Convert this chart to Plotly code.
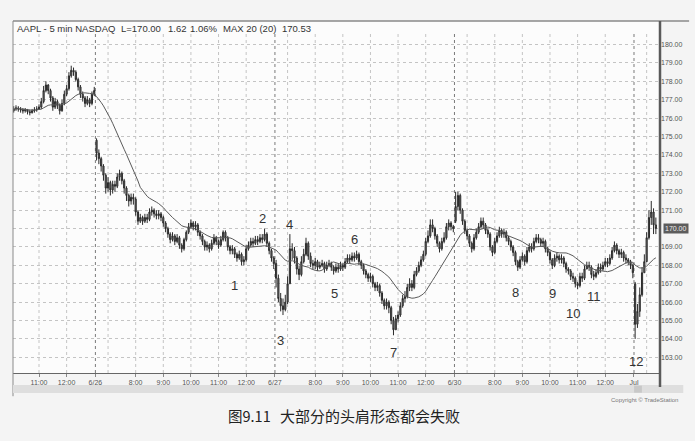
import plotly.graph_objects as go
import pandas as pd

# ---------------- data ----------------
day_labels = ["6/25", "6/26", "6/27", "6/30", "Jul"]
session_open = [176.4, 174.8, 168.1, 170.4, 167.0]

close_0625 = [176.5, 176.55, 176.5, 176.45, 176.4, 176.45, 176.35, 176.3, 176.4, 176.45,
              176.5, 176.6, 176.9, 177.5, 177.8, 177.5, 177.1, 176.6, 176.9, 176.7,
              176.4, 176.8, 177.3, 177.6, 178.3, 178.6, 178.5, 178.1, 177.7, 177.3,
              177.1, 176.8, 177.0, 176.8, 177.3, 177.5]
high_0625 = [176.65, 176.7, 176.65, 176.6, 176.55, 176.55, 176.5, 176.45, 176.5, 176.6,
             176.65, 176.75, 177.1, 177.75, 178.0, 177.85, 177.6, 177.2, 177.1, 177.0,
             176.8, 177.0, 177.5, 177.8, 178.5, 178.85, 178.75, 178.6, 178.2, 177.8,
             177.45, 177.2, 177.2, 177.1, 177.45, 177.7]
low_0625 = [176.3, 176.4, 176.35, 176.3, 176.25, 176.3, 176.2, 176.15, 176.25, 176.3,
            176.35, 176.45, 176.5, 176.8, 177.4, 177.3, 176.9, 176.4, 176.5, 176.5,
            176.2, 176.35, 176.7, 177.2, 177.5, 178.2, 178.3, 178.0, 177.5, 177.1,
            176.9, 176.6, 176.7, 176.6, 176.7, 177.2]

close_0626 = [174.1, 173.8, 173.4, 172.9, 172.2, 172.5, 172.1, 172.4, 172.3, 172.8,
              173.0, 172.6, 172.2, 171.8, 171.5, 171.7, 171.6, 170.9, 170.4, 170.6,
              170.4, 170.6, 170.5, 170.9, 171.0, 170.8, 170.7, 170.8, 170.6, 170.3,
              170.0, 169.7, 169.4, 169.6, 169.3, 169.5, 169.1, 168.9, 169.4, 169.8,
              170.1, 170.3, 170.1, 170.2, 169.8, 169.6, 169.3, 169.0, 169.1, 168.9,
              169.2, 169.5, 169.3, 169.1, 169.4, 169.8, 169.5, 169.0, 168.8, 168.9,
              168.6, 168.4, 168.6, 168.2, 168.3, 168.9, 169.1, 169.3, 169.2, 169.4,
              169.3, 169.5, 169.4, 169.7, 169.2, 168.8, 168.4, 168.1]
high_0626 = [174.9, 174.3, 173.9, 173.5, 173.0, 172.8, 172.6, 172.6, 172.6, 173.0,
             173.2, 173.1, 172.7, 172.3, 171.9, 171.9, 171.9, 171.7, 171.0, 170.8,
             170.7, 170.8, 170.8, 171.1, 171.2, 171.1, 171.0, 171.0, 170.9, 170.7,
             170.4, 170.1, 169.8, 169.8, 169.7, 169.7, 169.6, 169.2, 169.5, 169.9,
             170.3, 170.5, 170.4, 170.4, 170.3, 169.9, 169.7, 169.4, 169.3, 169.2,
             169.4, 169.7, 169.6, 169.4, 169.6, 169.9, 169.9, 169.6, 169.1, 169.1,
             169.0, 168.7, 168.8, 168.7, 168.5, 169.1, 169.3, 169.5, 169.5, 169.6,
             169.6, 169.7, 169.7, 170.0, 169.8, 169.3, 168.9, 168.5]
low_0626 = [173.7, 173.5, 173.1, 172.6, 171.9, 172.0, 171.8, 171.9, 172.0, 172.2,
            172.6, 172.4, 171.9, 171.5, 171.2, 171.3, 171.3, 170.7, 170.2, 170.3,
            170.2, 170.3, 170.3, 170.4, 170.7, 170.6, 170.5, 170.5, 170.4, 170.1,
            169.8, 169.5, 169.2, 169.3, 169.1, 169.2, 168.9, 168.7, 168.8, 169.3,
            169.7, 170.0, 169.9, 169.9, 169.6, 169.4, 169.1, 168.8, 168.8, 168.7,
            168.8, 169.1, 169.1, 168.9, 169.0, 169.3, 169.3, 168.8, 168.6, 168.6,
            168.4, 168.2, 168.3, 168.0, 168.0, 168.2, 168.8, 169.0, 169.0, 169.1,
            169.1, 169.2, 169.2, 169.3, 169.0, 168.6, 168.2, 167.8]

close_0627 = [167.3, 166.2, 165.8, 165.6, 166.0, 167.0, 168.9, 168.8, 168.4, 167.8,
              167.5, 168.2, 168.6, 169.2, 168.5, 168.1, 168.0, 168.2, 167.9, 168.0,
              168.1, 167.8, 168.0, 168.1, 167.9, 167.7, 167.9, 167.8, 168.0, 167.9,
              168.2, 168.4, 168.3, 168.5, 168.4, 168.6, 168.2, 168.0, 167.7, 167.5,
              167.3, 167.4, 167.0, 166.8, 166.9, 166.5, 166.1, 165.8, 166.0, 165.7,
              165.0, 164.5, 165.1, 165.3, 165.8, 166.2, 166.3, 166.8, 167.0, 166.8,
              167.5, 167.7, 168.0, 168.3, 168.6, 169.3, 169.6, 170.2, 170.0, 169.6,
              169.2, 168.9, 169.3, 169.5, 170.1, 170.3, 170.1, 170.0]
high_0627 = [168.3, 167.5, 166.5, 166.2, 166.4, 167.4, 169.7, 169.2, 169.0, 168.5,
             168.0, 168.5, 168.9, 169.5, 169.3, 168.7, 168.3, 168.4, 168.3, 168.2,
             168.3, 168.2, 168.2, 168.3, 168.2, 168.0, 168.1, 168.1, 168.2, 168.1,
             168.4, 168.6, 168.6, 168.7, 168.7, 168.8, 168.7, 168.3, 168.1, 167.8,
             167.6, 167.6, 167.5, 167.1, 167.1, 167.0, 166.6, 166.2, 166.2, 166.1,
             165.8, 165.2, 165.3, 165.5, 166.0, 166.4, 166.6, 167.0, 167.3, 167.2,
             167.7, 167.9, 168.2, 168.5, 168.8, 169.5, 169.9, 170.5, 170.5, 170.1,
             169.7, 169.3, 169.5, 169.8, 170.3, 170.5, 170.4, 170.2]
low_0627 = [166.8, 166.0, 165.5, 165.3, 165.5, 165.9, 167.0, 168.3, 168.1, 167.5,
            167.2, 167.4, 168.1, 168.5, 168.3, 167.9, 167.8, 167.8, 167.7, 167.8,
            167.9, 167.6, 167.7, 167.9, 167.7, 167.5, 167.6, 167.6, 167.7, 167.7,
            167.8, 168.1, 168.1, 168.2, 168.2, 168.3, 168.0, 167.8, 167.5, 167.3,
            167.1, 167.1, 166.8, 166.6, 166.6, 166.3, 165.9, 165.6, 165.6, 165.4,
            164.8, 164.2, 164.5, 164.9, 165.2, 165.7, 166.0, 166.2, 166.6, 166.6,
            166.7, 167.4, 167.6, 167.9, 168.2, 168.5, 169.2, 169.5, 169.8, 169.4,
            169.0, 168.7, 168.8, 169.2, 169.4, 169.9, 169.9, 169.8]

close_0630 = [171.2, 171.8, 171.0, 170.4, 169.9, 169.6, 169.2, 168.9, 169.5, 169.8,
              170.1, 170.4, 170.2, 169.9, 169.7, 169.0, 168.7, 169.3, 169.6, 169.9,
              169.7, 169.8, 169.5, 169.3, 169.0, 168.7, 168.2, 167.9, 168.3, 168.5,
              168.2, 168.8, 169.0, 168.9, 169.3, 169.5, 169.4, 169.2, 169.3, 168.9,
              168.7, 168.3, 168.0, 168.4, 168.5, 168.3, 168.4, 168.1, 167.8, 167.7,
              167.4, 167.3, 167.0, 166.9, 167.4, 167.3, 167.8, 168.0, 167.9, 167.5,
              167.4, 167.6, 167.9, 167.8, 168.0, 168.2, 168.1, 168.4, 168.8, 169.1,
              168.8, 168.6, 168.7, 168.4, 168.3, 168.2, 168.0, 167.6]
high_0630 = [172.0, 172.0, 171.9, 171.1, 170.5, 170.0, 169.7, 169.3, 169.7, 170.0,
             170.3, 170.6, 170.6, 170.3, 170.0, 169.8, 169.1, 169.5, 169.8, 170.1,
             170.0, 170.0, 169.9, 169.6, 169.4, 169.1, 168.8, 168.3, 168.5, 168.7,
             168.6, 169.0, 169.2, 169.2, 169.5, 169.7, 169.7, 169.5, 169.5, 169.4,
             169.0, 168.8, 168.4, 168.6, 168.7, 168.6, 168.6, 168.5, 168.2, 167.9,
             167.8, 167.6, 167.4, 167.1, 167.6, 167.6, 168.0, 168.2, 168.2, 168.0,
             167.7, 167.8, 168.1, 168.1, 168.2, 168.4, 168.4, 168.6, 169.0, 169.3,
             169.2, 168.9, 168.9, 168.8, 168.6, 168.4, 168.3, 168.1]
low_0630 = [170.3, 171.0, 170.8, 170.2, 169.7, 169.4, 169.0, 168.7, 168.8, 169.4,
            169.7, 170.0, 170.0, 169.7, 169.5, 168.8, 168.5, 168.6, 169.2, 169.5,
            169.5, 169.5, 169.3, 169.1, 168.8, 168.5, 168.0, 167.7, 167.8, 168.2,
            168.0, 168.1, 168.7, 168.7, 168.8, 169.2, 169.2, 169.0, 169.0, 168.7,
            168.5, 168.1, 167.8, 167.9, 168.2, 168.1, 168.1, 167.9, 167.6, 167.5,
            167.2, 167.1, 166.8, 166.7, 166.8, 167.1, 167.2, 167.8, 167.7, 167.3,
            167.2, 167.3, 167.5, 167.6, 167.7, 167.9, 167.9, 168.0, 168.3, 168.7,
            168.6, 168.4, 168.4, 168.2, 168.1, 168.0, 167.8, 167.3]

close_0701 = [164.8, 165.5, 166.4, 167.6, 168.2, 169.5, 170.6, 170.9, 170.2, 170.0]
high_0701 = [167.1, 165.9, 166.8, 167.9, 168.6, 169.8, 171.0, 171.5, 171.1, 170.6]
low_0701 = [164.0, 164.6, 165.2, 166.3, 167.6, 168.2, 169.4, 170.2, 169.7, 169.7]

ma_length = 20
y_tick_prices = list(range(163, 181))
last_price = 170.00

header_parts = [("AAPL - 5 min NASDAQ", 15), ("L=170.00", 120), ("1.62", 167),
                ("1.06%", 190), ("MAX 20 (20)", 223), ("170.53", 282)]

# pattern labels: (text, bar position, price position)
pattern_labels = [("1", 96.1, 166.93), ("2", 108.2, 170.52), ("3", 116.1, 163.94),
                  ("4", 119.8, 170.24), ("5", 139.2, 166.49), ("6", 148.2, 169.43),
                  ("7", 165.0, 163.29), ("8", 217.9, 166.55), ("9", 233.9, 166.49),
                  ("10", 242.9, 165.40), ("11", 252.0, 166.33), ("12", 270.3, 162.80)]

# ---------------- assemble ----------------
day_close = [close_0625, close_0626, close_0627, close_0630, close_0701]
day_high = [high_0625, high_0626, high_0627, high_0630, high_0701]
day_low = [low_0625, low_0626, low_0627, low_0630, low_0701]

closes, highs, lows, opens = [], [], [], []
for so, c, h, l in zip(session_open, day_close, day_high, day_low):
    opens += [so] + c[:-1]
    closes += c
    highs += h
    lows += l
n = len(closes)
idx = list(range(n))
ma = pd.Series(closes).rolling(ma_length, min_periods=1).mean()

starts = []
pos = 0
for c in day_close:
    starts.append(pos)
    pos += len(c)
bars_per_day = 78
virtual_starts = [starts[1] - bars_per_day] + starts[1:]

Y0, Y1 = 162.15, 181.28
X0, X1 = -0.3, 280.8
GRID_TOP = 180.7

tickvals, ticktext = [], []
hour_grid, day_seps = [], []
for k, vs in enumerate(virtual_starts):
    if k >= 1:
        sep = starts[k] - 0.5
        day_seps.append(sep)
        tickvals.append(sep)
        ticktext.append(day_labels[k])
    for h in [7, 8, 9, 10, 11, 12]:
        p = vs + (h * 60 - 390) // 5 - 1
        if p < starts[k] or p > n - 1:
            continue
        hour_grid.append(p)
        if h >= 8:
            tickvals.append(p)
            ticktext.append(f"{h}:00")

fig = go.Figure()
bar_style = dict(line=dict(color="#2a2a2a", width=1), fillcolor="#808080")
fig.add_trace(go.Candlestick(x=idx, open=opens, high=highs, low=lows, close=closes,
                             increasing=bar_style, decreasing=bar_style,
                             whiskerwidth=0, showlegend=False, hoverinfo="skip"))
fig.add_trace(go.Scatter(x=idx, y=ma, mode="lines",
                         line=dict(color="#5a5a5a", width=1), hoverinfo="skip",
                         showlegend=False))

shapes = []
for p in hour_grid:
    shapes.append(dict(type="line", xref="x", yref="y", x0=p, x1=p, y0=Y0, y1=GRID_TOP,
                       line=dict(color="#c4c4c4", width=1, dash="dot"), layer="below"))
for p in day_seps:
    shapes.append(dict(type="line", xref="x", yref="y", x0=p, x1=p, y0=Y0, y1=GRID_TOP,
                       line=dict(color="#7a7a7a", width=1, dash="dot"), layer="below"))
shapes.append(dict(type="line", xref="paper", yref="paper", x0=0, x1=1.045, y0=1, y1=1,
                   line=dict(color="#8a8a8a", width=1.5)))
shapes.append(dict(type="line", xref="paper", yref="paper", x0=0, x1=0, y0=1, y1=-0.066,
                   line=dict(color="#8a8a8a", width=1)))
shapes.append(dict(type="rect", xref="paper", yref="paper", x0=0, x1=1.036,
                   y0=-0.057, y1=-0.034, fillcolor="#dedede", line=dict(width=0)))
shapes.append(dict(type="rect", xref="paper", yref="paper", x0=0.96, x1=0.972,
                   y0=-0.056, y1=-0.036, fillcolor="#c8c8c8", line=dict(width=0)))
shapes.append(dict(type="line", xref="paper", yref="paper", x0=1, x1=1, y0=1, y1=-0.04,
                   line=dict(color="#5a5a5a", width=2.5)))

annotations = []
for txt, xpx in header_parts:
    annotations.append(dict(xref="paper", yref="paper", x=(xpx - 13) / 653, y=1 - 7 / 352,
                            text=txt, showarrow=False, xanchor="left", yanchor="middle",
                            font=dict(size=9.5, color="#333", family="Liberation Sans, Arial")))
for txt, bx, py in pattern_labels:
    annotations.append(dict(xref="x", yref="y", x=bx, y=py, text=txt, showarrow=False,
                            xanchor="center", yanchor="middle",
                            font=dict(size=13, color="#333", family="Liberation Sans, Arial")))
annotations.append(dict(xref="paper", yref="y", x=1.004, y=last_price, text=f"{last_price:.2f}",
                        showarrow=False, xanchor="left", yanchor="middle", bgcolor="#5c5c5c",
                        borderpad=1, font=dict(size=7, color="#eeeeee",
                                               family="Liberation Sans, Arial")))
annotations.append(dict(xref="paper", yref="paper", x=(228 - 13) / 653, y=(373 - 415) / 352,
                        text="图9.11", showarrow=False, xanchor="left", yanchor="middle",
                        font=dict(size=14.5, color="#222", family="Noto Sans CJK SC")))
annotations.append(dict(xref="paper", yref="paper", x=(280 - 13) / 653, y=(373 - 415) / 352,
                        text="大部分的头肩形态都会失败", showarrow=False, xanchor="left",
                        yanchor="middle",
                        font=dict(size=15, color="#222", family="Noto Sans CJK SC")))
annotations.append(dict(xref="paper", yref="paper", x=(686 - 13) / 653, y=(373 - 400) / 352,
                        text="Copyright © TradeStation", showarrow=False, xanchor="right",
                        yanchor="middle",
                        font=dict(size=6, color="#777", family="Liberation Sans, Arial")))

fig.update_layout(
    width=695, height=441, autosize=False,
    margin=dict(l=13, r=29, t=21, b=68),
    paper_bgcolor="#f4f4f4", plot_bgcolor="#fcfcfc",
    showlegend=False,
    font=dict(family="Liberation Sans, Arial", color="#555"),
    shapes=shapes, annotations=annotations,
    xaxis=dict(range=[X0, X1], tickmode="array", tickvals=tickvals, ticktext=ticktext,
               tickfont=dict(size=7, color="#555"), ticks="outside", ticklen=3,
               tickcolor="#888", showgrid=False, zeroline=False, showline=True,
               linecolor="#666", linewidth=1, rangeslider=dict(visible=False),
               fixedrange=True),
    yaxis=dict(range=[Y0, Y1], side="right", tickmode="array", tickvals=y_tick_prices,
               ticktext=["" if v == round(last_price) else f"{v:.2f}" for v in y_tick_prices],
               tickfont=dict(size=7, color="#555"), ticks="", showgrid=True,
               gridcolor="#c4c4c4", griddash="dot", gridwidth=1, zeroline=False,
               showline=False, fixedrange=True),
)

post = ("document.body.style.margin='0';document.body.style.overflow='hidden';"
        "var gd=document.getElementById('{plot_id}');"
        "Plotly.relayout(gd,{width:695,height:441});")
fig.write_html("out.html", config={"responsive": False, "displayModeBar": False},
               post_script=post)
